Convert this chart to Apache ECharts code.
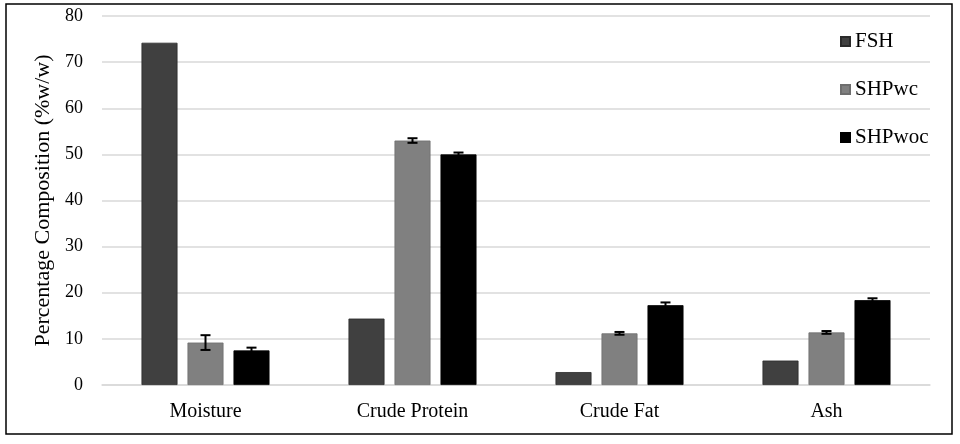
<!DOCTYPE html>
<html><head><meta charset="utf-8">
<script src="https://cdn.jsdelivr.net/npm/echarts@6/dist/echarts.min.js"></script>
<style>html,body{margin:0;padding:0;background:#fff}#c{width:960px;height:444px}</style>
</head><body><div id="c"></div>
<script>
const categories = ['Moisture', 'Crude Protein', 'Crude Fat', 'Ash'];
const seriesNames = ['FSH', 'SHPwc', 'SHPwoc'];
const fshValues = [74.2, 14.4, 2.8, 5.3];
const shpwcValues = [9.2, 53.0, 11.2, 11.4];
const shpwocValues = [7.5, 50.0, 17.3, 18.4];
const fshErrors = [0, 0, 0, 0];
const shpwcErrors = [1.6, 0.5, 0.3, 0.3];
const shpwocErrors = [0.6, 0.4, 0.6, 0.4];
const yTicks = [0, 10, 20, 30, 40, 50, 60, 70, 80];

const colors = ['#404040', '#808080', '#000000'];
const values = [fshValues, shpwcValues, shpwocValues];
const errors = [fshErrors, shpwcErrors, shpwocErrors];
const BAR_W = 36, GAP = 10;
const FONT = '"Liberation Serif", "Times New Roman", serif';

const chart = echarts.init(document.getElementById('c'));

const barSeries = seriesNames.map((n, i) => ({
  name: n, type: 'bar', data: values[i], barWidth: BAR_W, barGap: (GAP / BAR_W * 100) + '%',
  itemStyle: { color: colors[i], borderColor: i === 0 ? '#2a2a2a' : (i === 1 ? '#6e6e6e' : '#000'), borderWidth: 0.8 },
  z: 2
}));

const errSeries = seriesNames.map((n, i) => ({
  type: 'custom', name: n + ' err', silent: true, z: 5,
  data: categories.map((c, k) => [k, values[i][k], errors[i][k]]),
  renderItem: function (params, api) {
    const e = api.value(2);
    if (!e) return null;
    const k = api.value(0), v = api.value(1);
    const off = (i - 1) * (BAR_W + GAP);
    const hi = api.coord([k, v + e]);
    const lo = api.coord([k, v - e]);
    const x = hi[0] + off;
    const cw = 5;
    const st = { stroke: '#000', lineWidth: 2 };
    return { type: 'group', children: [
      { type: 'line', shape: { x1: x, y1: hi[1], x2: x, y2: lo[1] }, style: st },
      { type: 'line', shape: { x1: x - cw, y1: hi[1], x2: x + cw, y2: hi[1] }, style: st },
      { type: 'line', shape: { x1: x - cw, y1: lo[1], x2: x + cw, y2: lo[1] }, style: st }
    ]};
  }
}));

chart.setOption({
  animation: false,
  backgroundColor: '#fff',
  grid: { left: 102, right: 30, top: 16, bottom: 59 },
  legend: {
    data: seriesNames, orient: 'vertical', left: 835, top: 26, itemGap: 27,
    icon: 'rect', itemWidth: 9, itemHeight: 9,
    textStyle: { fontFamily: FONT, fontSize: 21, color: '#000', lineHeight: 20 }
  },
  xAxis: {
    type: 'category', data: categories,
    axisLine: { lineStyle: { color: '#d9d9d9', width: 1.5 } },
    axisTick: { show: false },
    axisLabel: { fontFamily: FONT, fontSize: 20, color: '#000', margin: 17 }
  },
  yAxis: {
    type: 'value', min: yTicks[0], max: yTicks[yTicks.length - 1], interval: 10,
    name: 'Percentage Composition (%w/w)', nameLocation: 'middle', nameGap: 45,
    nameTextStyle: { fontFamily: FONT, fontSize: 22, color: '#000' },
    axisLine: { show: false }, axisTick: { show: false },
    axisLabel: { fontFamily: FONT, fontSize: 18, color: '#000', margin: 19 },
    splitLine: { lineStyle: { color: '#d9d9d9', width: 1.5 } }
  },
  graphic: [{
    type: 'rect', shape: { x: 6, y: 4, width: 946, height: 430 },
    style: { fill: 'none', stroke: '#000', lineWidth: 1.5 }, z: 10
  }],
  series: barSeries.concat(errSeries)
});
</script></body></html>
